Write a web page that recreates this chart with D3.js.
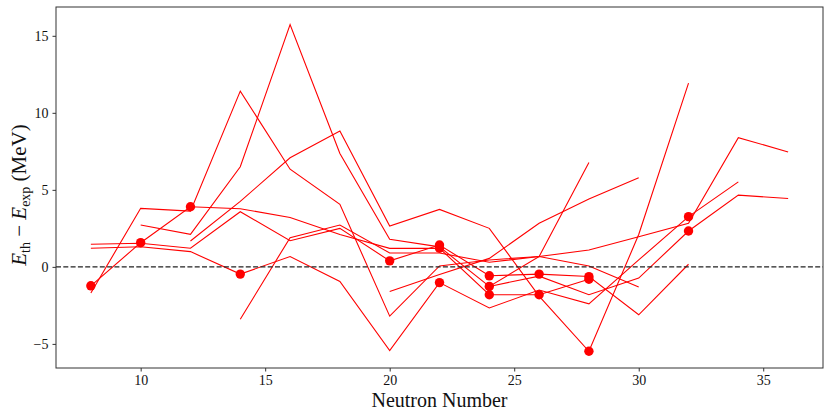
<!DOCTYPE html>
<html><head><meta charset="utf-8">
<script src="https://cdn.jsdelivr.net/npm/d3@7/dist/d3.min.js"></script>
<style>body{margin:0;background:#fff}svg text{font-family:"Liberation Serif","DejaVu Serif",serif}</style>
</head><body>
<svg id="c" width="830" height="415"></svg>
<script>
// Each series: neutron numbers and E_th - E_exp values (MeV)
const seriesA_N = [8,10,12,14,16,18,20,22,24,26,28];
const seriesA_V = [-1.23,1.57,3.90,3.77,3.21,2.1,1.2,1.21,-1.81,-1.81,-0.80];
const seriesB_N = [8,10,12,14,16,18,20,22,24,26,28,30];
const seriesB_V = [-1.70,3.80,3.62,11.41,6.34,4.06,-3.2,0.06,0.45,0.67,0.06,-1.31];
const seriesC_N = [8,10,12,14,16,18,20,22,24,26,28,30,32];
const seriesC_V = [1.47,1.53,1.21,3.58,1.70,2.50,0.39,1.42,-0.58,-0.47,-0.63,-3.11,0.17];
const seriesD_N = [8,10,12,14,16,18,20,22,24,26,28,30,32,34];
const seriesD_V = [1.21,1.31,0.99,-0.47,0.67,-0.95,-5.44,-1.02,-2.67,-1.5,-2.40,0.45,3.26,5.52];
const seriesE_N = [10,12,14,16,18,20,22,24,26,28,30,32,34,36];
const seriesE_V = [2.72,2.11,6.5,15.73,7.36,1.79,1.3,-1.27,0.67,1.10,1.96,2.83,8.39,7.46];
const seriesF_N = [12,14,16,18,20,22,24,26,28,30,32];
const seriesF_V = [1.68,4.25,7.08,8.82,2.65,3.73,2.50,-1.9,-5.48,2.1,11.93];
const seriesG_N = [14,16,18,20,22,24,26,28];
const seriesG_V = [-3.4,1.90,2.72,0.9,0.9,0.3,0.67,6.78];
const seriesH_N = [20,22,24,26,28,30];
const seriesH_V = [-1.6,-0.5,0.55,2.83,4.4,5.78];
const seriesI_N = [24,26,28,30,32,34,36];
const seriesI_V = [-1.27,-0.6,-1.81,-0.73,2.33,4.66,4.44];
// highlighted nuclei (dots)
const dotN = [8,10,12,14,20,22,22,22,24,24,24,26,26,28,28,28,32,32];
const dotV = [-1.23,1.57,3.90,-0.47,0.39,1.42,1.21,-1.02,-0.58,-1.27,-1.81,-0.47,-1.81,-5.48,-0.63,-0.80,3.26,2.33];
const xTicks = [10,15,20,25,30,35];
const yTicks = [-5,0,5,10,15];

const allN = [seriesA_N,seriesB_N,seriesC_N,seriesD_N,seriesE_N,seriesF_N,seriesG_N,seriesH_N,seriesI_N];
const allV = [seriesA_V,seriesB_V,seriesC_V,seriesD_V,seriesE_V,seriesF_V,seriesG_V,seriesH_V,seriesI_V];

const L=56,R=823,T=7,B=368;
const x = d3.scaleLinear().domain([6.6,37.4]).range([L,R]);
const y = d3.scaleLinear().domain([-6.565,16.87]).range([B,T]);
const svg = d3.select("#c");

const line = d3.line().x(d=>x(d[0])).y(d=>y(d[1]));
allN.forEach((ns,i)=>{
  const pts = ns.map((n,j)=>[n,allV[i][j]]);
  svg.append("path").attr("d",line(pts)).attr("fill","none")
     .attr("stroke","#ff0000").attr("stroke-width",1.1);
});

svg.append("line").attr("x1",L).attr("x2",R).attr("y1",y(0)).attr("y2",y(0))
   .attr("stroke","#222").attr("stroke-width",1.4).attr("stroke-dasharray","5,2.3");

svg.selectAll("circle.d").data(dotN.map((n,i)=>[n,dotV[i]])).enter().append("circle")
   .attr("cx",d=>x(d[0])).attr("cy",d=>y(d[1])).attr("r",4.7).attr("fill","#ff0000");

const gx = svg.append("g").attr("transform",`translate(0,${B})`)
  .call(d3.axisBottom(x).tickValues(xTicks).tickSize(3.5).tickPadding(4).tickFormat(d3.format("d")));
const gy = svg.append("g").attr("transform",`translate(${L},0)`)
  .call(d3.axisLeft(y).tickValues(yTicks).tickSize(3.5).tickPadding(4).tickFormat(d=>d<0?"\u2212"+Math.abs(d):d));
[gx,gy].forEach(g=>{
  g.select(".domain").remove();
  g.selectAll("line").attr("stroke","#333");
  g.selectAll("text").attr("font-size",14).attr("fill","#111")
    .style("font-family",'"Liberation Serif","DejaVu Serif",serif');
});

svg.append("rect").attr("x",L).attr("y",T).attr("width",R-L).attr("height",B-T)
   .attr("fill","none").attr("stroke","#333").attr("stroke-width",1);

svg.append("text").attr("x",(L+R)/2).attr("y",407).attr("text-anchor","middle")
   .attr("font-size",20).attr("fill","#111").text("Neutron Number");

const yl = svg.append("text").attr("transform","translate(26,195) rotate(-90)")
   .attr("text-anchor","middle").attr("font-size",21).attr("fill","#111");
yl.append("tspan").attr("font-style","italic").text("E");
yl.append("tspan").attr("font-size",14).attr("dy",4).text("th");
yl.append("tspan").attr("dy",-4).text(" \u2212 ");
yl.append("tspan").attr("font-style","italic").text("E");
yl.append("tspan").attr("font-size",14).attr("dy",4).text("exp");
yl.append("tspan").attr("dy",-4).text(" (MeV)");
</script>
</body></html>
